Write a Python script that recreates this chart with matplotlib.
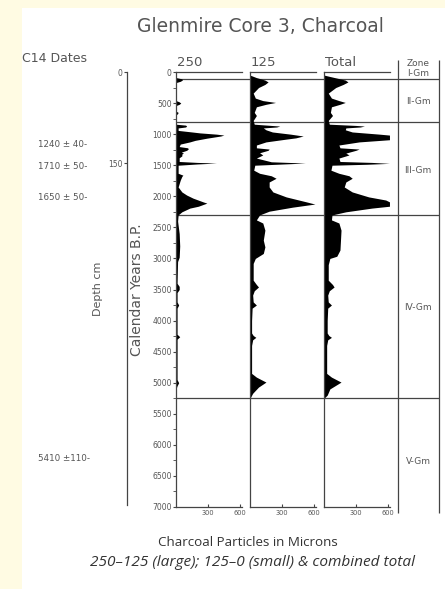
import numpy as np
import matplotlib
matplotlib.use("Agg")
import matplotlib.pyplot as plt
import matplotlib.transforms as mtransforms

# --- data (calendar years B.P. vs particle count) ---
years_large = [0, 90, 110, 130, 150, 170, 460, 480, 500, 520, 540, 630, 650, 670, 690,
               840, 855, 870, 885, 900, 940, 965, 980, 1000, 1015, 1030, 1065, 1100, 1125,
               1160, 1200, 1220, 1240, 1260, 1290, 1305, 1320, 1350, 1380, 1400, 1440,
               1455, 1465, 1480, 1500, 1630, 1660, 1680, 1740, 1850, 1930, 1980, 2030,
               2090, 2110, 2160, 2190, 2250, 2300, 2400, 2600, 2800, 2980, 3050, 3400,
               3450, 3500, 3550, 3700, 3750, 3800, 4220, 4260, 4300, 4950, 5000, 5050, 5100, 7000]
large = [0, 0, 55, 60, 40, 0, 0, 30, 45, 30, 0, 0, 20, 15, 0,
         0, 90, 100, 90, 20, 20, 150, 225, 380, 450, 420, 290, 180, 130,
         40, 30, 110, 115, 100, 50, 70, 55, 55, 30, 30, 30,
         200, 380, 200, 20, 20, 65, 55, 40, 20, 55, 100, 160,
         255, 290, 210, 130, 55, 20, 15, 30, 35, 30, 15, 10,
         30, 30, 10, 10, 25, 10, 10, 35, 10, 10, 25, 10, 0, 0]

years_small = [0, 50, 90, 130, 160, 200, 250, 340, 420, 460, 490, 520, 560, 650, 700,
               780, 840, 860, 870, 885, 900, 930, 965, 1000, 1030, 1060, 1080, 1125, 1175,
               1220, 1240, 1260, 1300, 1335, 1385, 1445, 1465, 1485, 1500, 1580, 1630,
               1670, 1710, 1770, 1850, 1930, 2010, 2090, 2125, 2175, 2240, 2300, 2380,
               2430, 2545, 2705, 2815, 2920, 3000, 3080, 3350, 3420, 3460, 3520, 3590,
               3700, 3750, 3800, 4000, 4200, 4240, 4270, 4310, 4400, 4850, 4910, 4990,
               5070, 5170, 5250, 7000]
small = [0, 0, 60, 140, 170, 140, 80, 30, 50, 120, 240, 150, 60, 40, 60,
         30, 40, 200, 280, 250, 125, 150, 210, 380, 500, 430, 340, 150, 60,
         60, 180, 170, 90, 120, 60, 200, 520, 250, 45, 35, 90,
         200, 245, 180, 180, 215, 340, 530, 610, 400, 180, 90, 60,
         120, 140, 125, 140, 125, 50, 30, 30, 60, 80, 40, 25,
         30, 60, 20, 15, 15, 30, 55, 25, 15, 15, 60, 150,
         80, 25, 0, 0]

years_total = [0, 50, 90, 130, 160, 200, 250, 340, 420, 460, 490, 520, 560, 650, 700,
               780, 840, 860, 870, 885, 900, 930, 965, 1000, 1015, 1090, 1125, 1175,
               1220, 1240, 1260, 1305, 1335, 1385, 1440, 1455, 1470, 1485, 1500, 1580,
               1630, 1670, 1710, 1770, 1850, 1930, 2010, 2060, 2090, 2160, 2190, 2250,
               2300, 2380, 2430, 2545, 2865, 2965, 3000, 3100, 3350, 3420, 3460, 3520,
               3590, 3700, 3750, 3800, 4000, 4200, 4240, 4270, 4310, 4400, 4850, 4910,
               4990, 5100, 5200, 5250, 7000]
total = [0, 0, 100, 200, 225, 180, 110, 40, 70, 140, 200, 150, 70, 60, 80,
         40, 50, 300, 380, 340, 205, 200, 265, 520, 615, 615, 330, 140,
         150, 330, 300, 205, 235, 140, 150, 450, 615, 400, 75, 65,
         140, 235, 265, 205, 190, 265, 420, 580, 615, 615, 450, 205,
         75, 70, 140, 160, 150, 120, 55, 40, 40, 80, 95, 50,
         35, 40, 70, 35, 30, 30, 45, 70, 35, 25, 25, 70,
         160, 55, 30, 0, 0]

panel_names = ["250", "125", "Total"]
panel_years = [years_large, years_small, years_total]
panel_values = [large, small, total]

zone_bounds = [110, 805, 2300, 5250]
zone_labels = ["I-Gm", "II-Gm", "III-Gm", "IV-Gm", "V-Gm"]
zone_label_years = [30, 470, 1580, 3785, 6260]

c14_labels = ["1240 \u00b1 40-", "1710 \u00b1 50-", "1650 \u00b1 50-", "5410 \u00b1110-"]
c14_depths = [120, 156, 206, 637]

W, H = 445, 589
INK = "#444444"
TXT = "#555555"
SCAN_FONT = "DejaVu Sans"


def px_rect(left, top, right, bottom):
    return [left / W, 1 - bottom / H, (right - left) / W, (bottom - top) / H]


fig = plt.figure(figsize=(W / 100, H / 100), dpi=100)
fig.patch.set_facecolor("#fffbe3")
fig.patches.append(plt.Rectangle((22 / W, 0), 1 - 22 / W, 1 - 8 / H,
                                 transform=fig.transFigure, facecolor="white",
                                 edgecolor="none", zorder=-5))

# zone boundary lines across all panels
axz = fig.add_axes(px_rect(176, 72, 439, 507))
axz.set_xlim(0, 1)
axz.set_ylim(7000, 0)
axz.axis("off")
axz.hlines(zone_bounds, 0, 1, color=INK, lw=0.9)
for lab, yr in zip(zone_labels, zone_label_years):
    axz.text(242 / 263, yr, lab, ha="center", va="center", fontsize=6.5, color=TXT,
             family=SCAN_FONT)
axz.text(242 / 263, -130, "Zone", ha="center", va="center", fontsize=6.5, color=TXT,
         family=SCAN_FONT, clip_on=False)
axz.vlines([222 / 263, 1.0], -190, 7100, color=INK, lw=0.9, clip_on=False)

# the three charcoal panels
lefts = [176, 250, 324]
for i, (name, yrs, vals) in enumerate(zip(panel_names, panel_years, panel_values)):
    ax = fig.add_axes(px_rect(lefts[i], 72, lefts[i] + 66, 507))
    ax.patch.set_alpha(0)
    ax.fill_betweenx(yrs, 0, vals, color="black", lw=0)
    ax.set_xlim(0, 620)
    ax.set_ylim(7000, 0)
    ax.spines["right"].set_visible(False)
    for s in ["left", "bottom", "top"]:
        ax.spines[s].set_color(INK)
        ax.spines[s].set_linewidth(0.9)
    ax.set_xticks([300, 600])
    ax.tick_params(axis="x", direction="in", length=2, labelsize=4.8, pad=2,
                   colors=INK, labelcolor=TXT)
    if i == 0:
        ax.set_yticks(np.arange(0, 7001, 500))
        ax.set_yticks(np.arange(250, 7000, 500), minor=True)
        ax.tick_params(axis="y", which="both", direction="out", length=2, labelsize=5.5,
                       pad=1, colors=INK, labelcolor=TXT)
    else:
        ax.set_yticks([])
    for lbl in ax.get_xticklabels() + ax.get_yticklabels():
        lbl.set_family(SCAN_FONT)
    fig.text((lefts[i] + 1) / W, 1 - 62 / H, name, ha="left", va="center",
             fontsize=9.5, color=TXT, family=SCAN_FONT)

# depth axis
axd = fig.add_axes(px_rect(127, 72, 128, 505))
axd.set_ylim(713, 0)
axd.set_xticks([])
axd.set_yticks([0, 150])
axd.patch.set_alpha(0)
for s in ["right", "top", "bottom"]:
    axd.spines[s].set_visible(False)
axd.spines["left"].set_color(INK)
axd.spines["left"].set_linewidth(0.9)
axd.tick_params(axis="y", length=2, labelsize=5.5, pad=1, colors=INK, labelcolor=TXT)
for lbl in axd.get_yticklabels():
    lbl.set_family(SCAN_FONT)

trans = mtransforms.blended_transform_factory(fig.transFigure, axd.transData)
for lab, d in zip(c14_labels, c14_depths):
    axd.text(38 / W, d, lab, transform=trans, ha="left", va="center",
             fontsize=6.3, color=TXT, family=SCAN_FONT)

# text labels
fig.text(260 / W, 1 - 27 / H, "Glenmire Core 3, Charcoal", ha="center", va="center",
         fontsize=13.5, color=TXT, family=SCAN_FONT)
fig.text(22 / W, 1 - 58 / H, "C14 Dates", ha="left", va="center", fontsize=9,
         color=TXT, family=SCAN_FONT)
fig.text(98 / W, 1 - 289 / H, "Depth cm", rotation=90, ha="center", va="center",
         fontsize=8, color=TXT, family=SCAN_FONT)
fig.text(137 / W, 1 - 290 / H, "Calendar Years B.P.", rotation=90, ha="center",
         va="center", fontsize=10, color=TXT, family=SCAN_FONT)

fig.text(248 / W, 1 - 543 / H, "Charcoal Particles in Microns", ha="center", va="center",
         fontsize=9.6, color="#333333", family="Open Sans")
fig.text(253 / W, 1 - 563 / H, "250\u2013125 (large); 125\u20130 (small) & combined total",
         ha="center", va="center", fontsize=11.1, color="#333333", family="Open Sans",
         style="italic")

fig.savefig("out.png", dpi=100)
